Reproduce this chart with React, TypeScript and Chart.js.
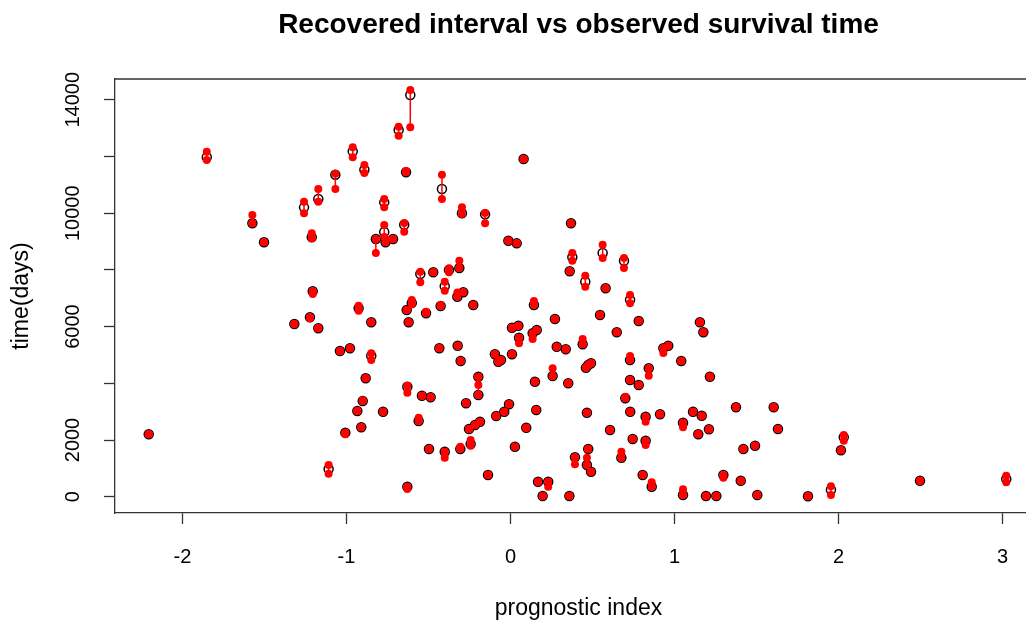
import { useEffect, useRef } from "react";
import { Chart, registerables } from "chart.js";

Chart.register(...registerables);

// Prognostic index of each patient and the survival times (days):
// observed value plus lower / upper ends of the recovered interval.
const prognosticIndex = [
  -2.206, -1.852, -1.574, -1.503, -1.318, -1.259, -1.223, -1.212, -1.206, -1.172,
  -1.172, -1.109, -1.068, -1.04, -1.007, -0.979, -0.962, -0.934, -0.926, -0.91,
  -0.901, -0.891, -0.883, -0.849, -0.849, -0.821, -0.777, -0.77, -0.77, -0.762,
  -0.716, -0.682, -0.648, -0.637, -0.633, -0.629, -0.629, -0.621, -0.611, -0.602,
  -0.56, -0.55, -0.54, -0.515, -0.497, -0.487, -0.471, -0.434, -0.426, -0.418,
  -0.401, -0.401, -0.375, -0.324, -0.322, -0.312, -0.306, -0.304, -0.296, -0.288,
  -0.271, -0.253, -0.243, -0.227, -0.216, -0.196, -0.196, -0.186, -0.155, -0.137,
  -0.095, -0.087, -0.074, -0.058, -0.038, -0.013, -0.009, 0.009, 0.009, 0.027,
  0.038, 0.048, 0.052, 0.08, 0.096, 0.135, 0.143, 0.149, 0.157, 0.16,
  0.168, 0.196, 0.23, 0.257, 0.271, 0.282, 0.337, 0.352, 0.359, 0.361,
  0.369, 0.377, 0.393, 0.44, 0.456, 0.46, 0.466, 0.466, 0.474, 0.474,
  0.491, 0.491, 0.546, 0.562, 0.58, 0.607, 0.648, 0.676, 0.692, 0.7,
  0.729, 0.729, 0.729, 0.73, 0.745, 0.782, 0.782, 0.806, 0.824, 0.824,
  0.843, 0.861, 0.912, 0.932, 0.962, 1.041, 1.052, 1.052, 1.113, 1.145,
  1.155, 1.166, 1.176, 1.192, 1.21, 1.216, 1.255, 1.298, 1.375, 1.404,
  1.42, 1.491, 1.505, 1.605, 1.631, 1.814, 1.954, 2.015, 2.032, 2.497,
  3.023,
];

const observedDays = [
  2201, 11971, 9643, 8973, 6091, 10207, 6327, 9149, 7244, 10500,
  5940, 977, 11357, 5139, 2257, 5234, 12182, 3023, 6645, 2448,
  3375, 11533, 4176, 6151, 4973, 9089, 2998, 10383, 9336, 8973,
  9089, 12933, 9593, 11442, 6585, 3880, 353, 6151, 14168, 6832,
  2670, 7855, 3562, 6468, 1682, 3506, 7915, 5234, 6726, 10853,
  7421, 1587, 7996, 7054, 5326, 8066, 1682, 4786, 9996, 7209,
  3294, 2388, 1859, 6761, 2529, 4232, 3587, 2645, 9960, 765,
  5022, 2846, 4761, 4821, 2998, 9029, 3259, 5022, 5961, 1764,
  8937, 6031, 5608, 11911, 2434, 5763, 6761, 4056, 3058, 5880,
  529, 25, 529, 4257, 6268, 5291, 5199, 4000, 25, 7950,
  9643, 8444, 1390, 5375, 7583, 4550, 2963, 1118, 4645, 1682,
  4705, 882, 6409, 8595, 7350, 2352, 5798, 1376, 8324, 3471,
  6948, 4821, 4116, 2998, 2035, 6197, 3940, 765, 2822, 1975,
  4529, 353, 2906, 5234, 5326, 4786, 2610, 60, 2998, 2201,
  6151, 2857, 5798, 25, 2377, 4232, 25, 765, 3153, 564,
  1682, 1799, 60, 3153, 2388, 14, 247, 1637, 2095, 564,
  624,
];

const lowerDays = [
  2201, 11876, 9643, 8973, 6091, 9996, 6292, 9114, 7149, 10405,
  5940, 811, 10853, 5139, 2201, 5234, 11971, 3023, 6560, 2448,
  3375, 11417, 4176, 6151, 4821, 8595, 2998, 10207, 9160, 8973,
  9089, 12732, 9347, 11442, 6585, 3668, 272, 6151, 13029, 6786,
  2670, 7562, 3562, 6468, 1682, 3506, 7915, 5234, 6726, 10500,
  7266, 1376, 7915, 7054, 5326, 8066, 1682, 4786, 9971, 7209,
  3294, 2388, 1799, 6761, 2529, 4232, 3587, 2645, 9643, 765,
  5022, 2846, 4761, 4821, 2998, 9029, 3259, 5022, 5961, 1764,
  8937, 6031, 5410, 11911, 2434, 5560, 6761, 4056, 3058, 5880,
  529, 25, 353, 4257, 6268, 5291, 5199, 4000, 25, 7950,
  9643, 8324, 1143, 5375, 7407, 4550, 2963, 1118, 4645, 1682,
  4705, 882, 6409, 8419, 7350, 2352, 5798, 1376, 8066, 3471,
  6821, 4821, 4116, 2998, 2035, 6197, 3940, 765, 2645, 1823,
  4268, 353, 2906, 5069, 5326, 4786, 2448, 60, 2998, 2201,
  6151, 2857, 5798, 25, 2377, 4232, 25, 670, 3153, 564,
  1682, 1799, 60, 3153, 2388, 14, 60, 1637, 1975, 564,
  508,
];

const upperDays = [
  2201, 12168, 9936, 8973, 6091, 10405, 6327, 9290, 7244, 10853,
  5940, 1118, 11392, 5139, 2257, 5234, 12323, 3023, 6737, 2448,
  3400, 11699, 4176, 6151, 5058, 9089, 2998, 10500, 9583, 9089,
  9089, 13050, 9653, 11489, 6585, 3915, 353, 6151, 14344, 6938,
  2786, 7936, 3562, 6525, 1682, 3506, 7915, 5234, 6761, 11357,
  7583, 1587, 8056, 7200, 5326, 8324, 1764, 4786, 10207, 7209,
  3294, 2388, 2000, 6761, 2529, 4232, 3940, 2645, 10006, 765,
  5022, 2846, 4761, 4821, 2998, 9029, 3259, 5022, 5961, 1764,
  8937, 6031, 5608, 11911, 2434, 5763, 6902, 4056, 3058, 5880,
  529, 25, 529, 4529, 6268, 5291, 5199, 4000, 25, 7950,
  9643, 8595, 1390, 5562, 7795, 4550, 2963, 1376, 4645, 1682,
  4705, 882, 6409, 8888, 7350, 2352, 5798, 1587, 8419, 3527,
  7114, 4962, 4116, 2998, 2035, 6197, 3940, 765, 2822, 1975,
  4529, 508, 2906, 5234, 5326, 4786, 2610, 261, 2998, 2201,
  6151, 2857, 5798, 25, 2377, 4232, 25, 765, 3153, 564,
  1682, 1799, 60, 3153, 2388, 14, 367, 1637, 2176, 564,
  741,
];

const xTicks = [-2, -1, 0, 1, 2, 3];
const yTicks = [0, 2000, 4000, 6000, 8000, 10000, 12000, 14000];
const yTickLabels = [0, 2000, 6000, 10000, 14000];

const FONT = "'Liberation Sans', Arial, Helvetica, sans-serif";
const INK = "#000";
const FRAME = "#333";
const RED = "#ff0000";

// R-style plot frame: the top and right sides are not drawn by the axes.
const frameBox = {
  id: "frameBox",
  afterDatasetsDraw(chart: Chart) {
    const { ctx, chartArea } = chart;
    ctx.save();
    ctx.strokeStyle = FRAME;
    ctx.lineWidth = 1.3;
    ctx.beginPath();
    ctx.moveTo(chartArea.left, chartArea.top);
    ctx.lineTo(chartArea.right, chartArea.top);
    ctx.lineTo(chartArea.right, chartArea.bottom);
    ctx.stroke();
    ctx.restore();
  },
};

export default function App() {
  const canvasRef = useRef<HTMLCanvasElement | null>(null);

  useEffect(() => {
    const canvas = canvasRef.current;
    if (!canvas) return;

    const observed = prognosticIndex.map((x, i) => ({ x, y: observedDays[i] }));
    const endpoints = [
      ...prognosticIndex.map((x, i) => ({ x, y: lowerDays[i] })),
      ...prognosticIndex.map((x, i) => ({ x, y: upperDays[i] })),
    ];
    const segments = prognosticIndex.flatMap((x, i) => [
      { x, y: lowerDays[i] },
      { x, y: upperDays[i] },
      { x, y: null as number | null },
    ]);

    const chart = new Chart(canvas, {
      type: "scatter",
      data: {
        datasets: [
          {
            label: "recovered interval ends",
            data: endpoints,
            pointRadius: 4,
            pointBackgroundColor: RED,
            pointBorderWidth: 0,
            order: 1,
          },
          {
            label: "recovered interval",
            data: segments as any,
            showLine: true,
            spanGaps: false,
            borderColor: RED,
            borderWidth: 1.5,
            pointRadius: 0,
            order: 2,
          },
          {
            label: "observed",
            data: observed,
            pointRadius: 4.5,
            pointBorderColor: "#000",
            pointBorderWidth: 1.5,
            pointBackgroundColor: "rgba(0,0,0,0)",
            order: 3,
          },
        ],
      },
      options: {
        responsive: false,
        animation: false,
        events: [],
        layout: { padding: { left: 0, right: 18, top: 0, bottom: 0 } },
        plugins: {
          legend: { display: false },
          tooltip: { enabled: false },
          title: {
            display: true,
            fullSize: false,
            text: "Recovered interval vs observed survival time",
            color: INK,
            font: { family: FONT, size: 28, weight: "bold" },
            padding: { top: 8.8, bottom: 36.6 },
          },
        },
        scales: {
          x: {
            type: "linear",
            min: -2.4116,
            max: 3.2409,
            afterBuildTicks: (scale: any) => {
              scale.ticks = xTicks.map((value) => ({ value }));
            },
            afterFit: (scale: any) => {
              scale.height = 110;
            },
            ticks: {
              autoSkip: false,
              maxRotation: 0,
              minRotation: 0,
              padding: 21,
              color: INK,
              font: { family: FONT, size: 20 },
              callback: (v: any) => String(v),
            },
            grid: {
              drawOnChartArea: false,
              drawTicks: true,
              tickLength: 11,
              tickColor: FRAME,
              tickWidth: 1.3,
              color: FRAME,
            },
            border: { display: true, color: FRAME, width: 1.3 },
            title: {
              display: true,
              text: "prognostic index",
              color: INK,
              font: { family: FONT, size: 23 },
              padding: { top: 0, bottom: 0.8 },
            },
          },
          y: {
            type: "linear",
            min: -575,
            max: 14734,
            afterBuildTicks: (scale: any) => {
              scale.ticks = yTicks.map((value) => ({ value }));
            },
            afterFit: (scale: any) => {
              scale.width = 115;
            },
            ticks: {
              autoSkip: false,
              minRotation: 90,
              maxRotation: 90,
              crossAlign: "center",
              padding: 3,
              color: INK,
              font: { family: FONT, size: 20 },
              callback: (v: any) => (yTickLabels.includes(Number(v)) ? String(v) : ""),
            },
            grid: {
              drawOnChartArea: false,
              drawTicks: true,
              tickLength: 11,
              tickColor: FRAME,
              tickWidth: 1.3,
              color: FRAME,
            },
            border: { display: true, color: FRAME, width: 1.3 },
            title: {
              display: true,
              text: "time(days)",
              color: INK,
              font: { family: FONT, size: 23 },
              padding: { top: 8.2, bottom: 0 },
            },
          },
        },
      },
      plugins: [frameBox],
    });

    return () => chart.destroy();
  }, []);

  return (
    <div
      style={{
        position: "fixed",
        left: 0,
        top: 0,
        width: 1026,
        height: 623,
        overflow: "hidden",
        background: "#fff",
      }}
    >
      <canvas ref={canvasRef} width={1060} height={623} style={{ display: "block" }} />
    </div>
  );
}
